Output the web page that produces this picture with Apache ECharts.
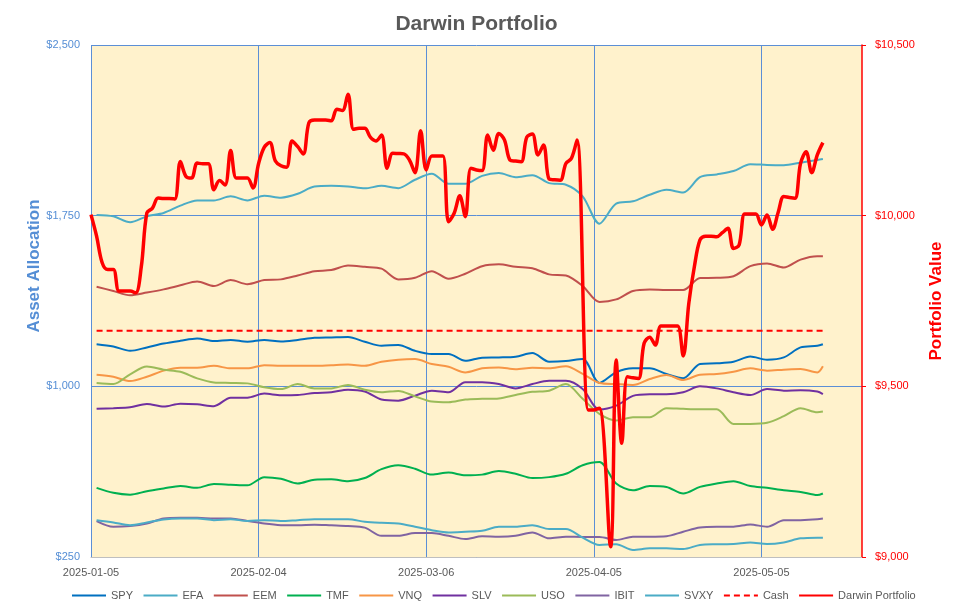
<!DOCTYPE html>
<html lang="en">
<head>
    <meta charset="UTF-8">
    <title>Darwin Portfolio</title>
    <script src="https://cdn.jsdelivr.net/npm/echarts@6/dist/echarts.min.js"></script>
    <style>
        html, body { margin: 0; padding: 0; background: #fff; }
        #main { width: 953px; height: 614px; }
    </style>
</head>
<body>
    <div id="main"></div>
    <script type="text/javascript">
    // days counted from 2025-01-05
    var days = [1,4,7,10,13,16,19,22,25,28,31,34,37,40,43,46,49,52,55,58,61,64,67,70,73,76,79,82,85,88,91,94,97,100,103,106,109,112,115,118,121,124,127,130,131];

    var spy  = [1185,1175,1156,1171,1188,1200,1210,1199,1204,1196,1204,1197,1204,1213,1215,1217,1196,1178,1182,1156,1142,1142,1112,1126,1127,1130,1146,1108,1111,1120,1015,1062,1079,1079,1054,1035,1098,1101,1108,1131,1117,1127,1171,1178,1185];
    var efa  = [1753,1747,1721,1747,1762,1794,1817,1817,1835,1817,1838,1829,1846,1878,1881,1878,1870,1881,1871,1908,1934,1890,1890,1925,1937,1919,1928,1893,1886,1835,1715,1803,1813,1842,1864,1852,1919,1931,1946,1976,1973,1972,1983,1995,1999];
    var eem  = [1438,1419,1400,1412,1426,1444,1461,1441,1467,1449,1467,1470,1487,1506,1511,1531,1525,1517,1470,1477,1506,1473,1495,1528,1536,1525,1519,1492,1487,1441,1371,1382,1419,1426,1423,1423,1476,1477,1484,1528,1540,1522,1557,1572,1572];
    var tmf  = [554,532,524,539,551,562,554,571,568,565,601,594,573,590,592,583,597,636,653,638,612,621,609,612,628,616,597,601,616,653,667,573,543,562,558,529,558,573,583,562,554,543,536,522,529];
    var vnq  = [1051,1042,1023,1042,1069,1082,1082,1090,1079,1079,1093,1090,1090,1090,1093,1096,1090,1108,1117,1120,1098,1086,1061,1079,1083,1075,1082,1079,1088,1055,1015,1010,1006,1032,1050,1028,1051,1054,1064,1079,1069,1073,1076,1061,1088];
    var slv  = [901,904,908,922,911,924,921,913,950,950,968,961,962,971,974,985,977,942,937,959,981,974,1018,1018,1010,991,1010,1024,1024,988,898,915,958,965,965,974,1000,991,974,962,988,981,983,977,966];
    var uso  = [1015,1010,1053,1087,1073,1064,1035,1017,1015,1013,996,988,1010,991,991,1006,985,974,980,956,933,930,942,945,947,962,976,981,1010,945,879,850,864,864,904,901,899,899,835,835,840,869,904,886,889];
    var ibit = [408,383,386,397,419,422,422,419,419,408,397,390,389,392,389,386,379,343,343,355,355,343,329,341,339,343,358,332,339,338,338,325,339,339,341,361,380,383,383,393,383,411,412,416,419];
    var svxy = [412,402,390,402,415,419,419,412,416,408,412,408,412,416,416,416,405,400,397,383,368,358,361,365,383,383,390,373,373,335,303,306,281,288,288,285,303,306,307,314,307,314,332,335,335];

    var cashDays = [1, 131];
    var cash = [1244, 1244];

    var darwinDays = [0,1,2,3,4,5,6,7,8,9,10,11,12,13,14,15,16,17,18,19,20,21,22,23,24,25,26,27,28,29,30,31,32,33,34,35,36,37,38,39,40,41,42,43,44,45,46,47,48,49,50,51,52,53,54,55,56,57,58,59,60,61,62,63,64,65,66,67,68,69,70,71,72,73,74,75,76,77,78,79,80,81,82,83,84,85,86,87,89,90,91,93,94,95,96,97,98,99,100,101,102,103,104,105,106,107,108,109,110,111,112,113,114,115,116,117,118,119,120,121,122,123,124,125,126,127,128,129,130,131];
    var darwin = [10003,9940,9862,9842,9842,9779,9779,9779,9774,9850,10008,10022,10052,10050,10050,10049,10159,10115,10110,10154,10152,10152,10076,10103,10090,10191,10110,10110,10110,10081,10153,10200,10214,10160,10146,10142,10219,10202,10181,10272,10280,10280,10280,10278,10312,10308,10356,10253,10256,10256,10230,10219,10236,10139,10183,10182,10181,10163,10126,10249,10134,10175,10175,10175,9982,10007,10058,9997,10139,10134,10132,10236,10192,10241,10222,10163,10160,10158,10230,10239,10178,10207,10107,10105,10104,10153,10168,10222,9431,9431,9436,9030,9577,9333,9528,9525,9523,9626,9644,9621,9677,9677,9677,9677,9589,9743,9851,9929,9940,9940,9938,9950,9963,9904,9914,10005,10005,10005,9973,10002,9960,10010,10056,10053,10051,10153,10187,10126,10178,10214];

    var xTicks = [0, 30, 60, 90, 120];

    function pairs(xs, ys) {
        return xs.map(function (x, i) { return [x, ys[i]]; });
    }
    function money(v) {
        return '$' + v.toLocaleString('en-US');
    }
    function dayLabel(v) {
        if (xTicks.indexOf(v) < 0) return '';
        var d = new Date(Date.UTC(2025, 0, 5) + v * 86400000);
        return d.toISOString().slice(0, 10);
    }

    var font = 'Liberation Sans';
    var gridBlue = '#5B8FD6';

    function asset(name, data, color) {
        return {
            name: name,
            type: 'line',
            yAxisIndex: 0,
            symbol: 'none',
            smooth: 0.3,
            data: pairs(days, data),
            lineStyle: { color: color, width: 2 },
            itemStyle: { color: color }
        };
    }

    var myChart = echarts.init(document.getElementById('main'));

    var option = {
        animation: false,
        textStyle: { fontFamily: font },
        title: {
            text: 'Darwin Portfolio',
            left: 'center',
            top: 9,
            textStyle: { fontFamily: font, fontSize: 21, fontWeight: 'bold', color: '#595959' }
        },
        legend: {
            bottom: 8,
            left: 66,
            itemWidth: 34,
            itemHeight: 10,
            itemGap: 9.5,
            itemStyle: { opacity: 0 },
            textStyle: { fontFamily: font, fontSize: 11, color: '#595959' },
            data: ['SPY', 'EFA', 'EEM', 'TMF', 'VNQ', 'SLV', 'USO', 'IBIT', 'SVXY', 'Cash', 'Darwin Portfolio']
        },
        grid: {
            left: 91, right: 91, top: 45, bottom: 57,
            show: true, backgroundColor: '#FFF2CC', borderWidth: 0
        },
        xAxis: {
            type: 'value',
            min: 0,
            max: 138,
            interval: 30,
            axisLine: { show: true, lineStyle: { color: '#BFBFBF', width: 1 } },
            axisTick: { show: false },
            axisLabel: { formatter: dayLabel, color: '#595959', fontSize: 11, margin: 10, fontFamily: font },
            splitLine: { show: true, showMaxLine: false, lineStyle: { color: gridBlue, width: 1 } }
        },
        yAxis: [
            {
                type: 'value',
                min: 250,
                max: 2500,
                interval: 750,
                name: 'Asset Allocation',
                nameLocation: 'middle',
                nameGap: 48,
                nameMoveOverlap: false,
                nameTextStyle: { color: '#558ED5', fontSize: 17, fontWeight: 'bold', fontFamily: font, padding: [0, 0, 0, 70] },
                axisLine: { show: false },
                axisTick: { show: false },
                axisLabel: { formatter: money, color: '#558ED5', fontSize: 11, margin: 11, fontFamily: font },
                splitLine: { show: true, lineStyle: { color: gridBlue, width: 1 } }
            },
            {
                type: 'value',
                min: 9000,
                max: 10500,
                interval: 500,
                name: 'Portfolio Value',
                nameLocation: 'middle',
                nameGap: 66,
                nameTextStyle: { color: '#FF0000', fontSize: 17, fontWeight: 'bold', fontFamily: font },
                axisLine: { show: true, lineStyle: { color: '#FF0000', width: 1.5 } },
                axisTick: { show: true, length: 4, lineStyle: { color: '#FF0000' } },
                axisLabel: { formatter: money, color: '#FF0000', fontSize: 11, margin: 13, fontFamily: font },
                splitLine: { show: false }
            }
        ],
        series: [
            asset('SPY', spy, '#0070C0'),
            asset('EFA', efa, '#4BACC6'),
            asset('EEM', eem, '#C0504D'),
            asset('TMF', tmf, '#00B050'),
            asset('VNQ', vnq, '#F79646'),
            asset('SLV', slv, '#7030A0'),
            asset('USO', uso, '#9BBB59'),
            asset('IBIT', ibit, '#8064A2'),
            asset('SVXY', svxy, '#4BACC6'),
            {
                name: 'Cash',
                type: 'line',
                yAxisIndex: 0,
                symbol: 'none',
                data: pairs(cashDays, cash),
                lineStyle: { color: '#FF0000', width: 2, type: [6, 4] },
                itemStyle: { color: '#FF0000' }
            },
            {
                name: 'Darwin Portfolio',
                type: 'line',
                yAxisIndex: 1,
                symbol: 'none',
                smooth: 0.35,
                data: pairs(darwinDays, darwin),
                lineStyle: { color: '#FF0000', width: 3.5 },
                itemStyle: { color: '#FF0000' },
                z: 5
            }
        ]
    };

    myChart.setOption(option);
    </script>
</body>
</html>
